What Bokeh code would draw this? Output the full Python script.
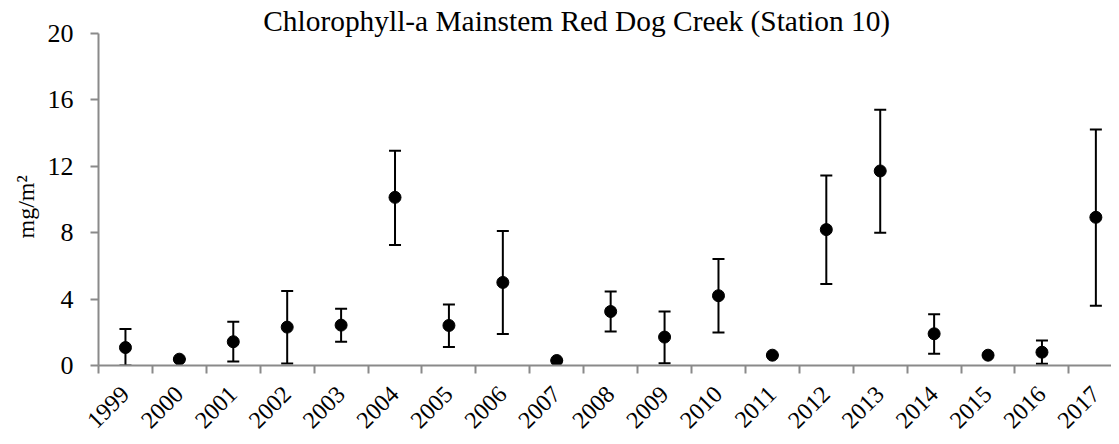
from bokeh.plotting import figure
from bokeh.models import (ColumnDataSource, Whisker, TeeHead, Range1d, FixedTicker, Label, Title)
from bokeh.embed import file_html
from bokeh.resources import INLINE

years = ["1999", "2000", "2001", "2002", "2003", "2004", "2005", "2006", "2007", "2008",
         "2009", "2010", "2011", "2012", "2013", "2014", "2015", "2016", "2017"]
mean = [1.08, 0.38, 1.43, 2.31, 2.43, 10.12, 2.41, 5.00, 0.30, 3.25,
        1.71, 4.20, 0.62, 8.18, 11.71, 1.91, 0.62, 0.80, 8.92]
upper = [2.19, 0.38, 2.63, 4.48, 3.41, 12.92, 3.67, 8.09, 0.30, 4.46,
         3.25, 6.41, 0.62, 11.43, 15.40, 3.09, 0.62, 1.51, 14.20]
lower = [0.00, 0.38, 0.24, 0.12, 1.43, 7.25, 1.12, 1.89, 0.30, 2.05,
         0.14, 1.99, 0.62, 4.90, 7.99, 0.70, 0.62, 0.10, 3.59]
y_ticks = [0, 4, 8, 12, 16, 20]
title_text = "Chlorophyll-a Mainstem Red Dog Creek (Station 10)"
y_label = "mg/m²"

FONT = "Liberation Serif"
AXIS_GRAY = "#8a8a8a"

xs = [i + 0.5 for i in range(len(years))]
src = ColumnDataSource(dict(x=xs, mean=mean, upper=upper, lower=lower))

p = figure(frame_width=1013, frame_height=365, output_backend="svg", toolbar_location=None,
           x_range=Range1d(0, 18.79), y_range=Range1d(0, 21.97),
           min_border_left=98, min_border_right=0, min_border_top=0, min_border_bottom=60)
p.outline_line_color = None
p.xgrid.grid_line_color = None
p.ygrid.grid_line_color = None

w = Whisker(base="x", upper="upper", lower="lower", source=src, dimension="height",
            line_color="black", line_width=2,
            upper_head=TeeHead(size=12, line_color="black", line_width=2),
            lower_head=TeeHead(size=12, line_color="black", line_width=2))
p.add_layout(w)
p.scatter("x", "mean", source=src, size=12, color="black")

# x axis: labels at category centres, tick marks at category boundaries
p.xaxis.ticker = FixedTicker(ticks=xs, minor_ticks=list(range(len(years) + 1)))
p.xaxis.major_label_overrides = {x: y for x, y in zip(xs, years)}
p.xaxis.major_label_orientation = 0.785398
p.xaxis.major_tick_out = 0
p.xaxis.major_tick_in = 0
p.xaxis.minor_tick_out = 8
p.xaxis.minor_tick_in = 0
p.xaxis.minor_tick_line_color = AXIS_GRAY
p.xaxis.minor_tick_line_width = 2
p.xaxis.axis_line_color = AXIS_GRAY
p.xaxis.axis_line_width = 2
p.xaxis.major_label_text_font = FONT
p.xaxis.major_label_text_font_size = "24px"
p.xaxis.major_label_text_color = "black"
p.xaxis.major_label_standoff = 17

p.yaxis.ticker = FixedTicker(ticks=y_ticks)
p.yaxis.bounds = (0, 20)
p.yaxis.minor_tick_line_color = None
p.yaxis.major_tick_out = 8
p.yaxis.major_tick_in = 0
p.yaxis.major_tick_line_color = AXIS_GRAY
p.yaxis.major_tick_line_width = 2
p.yaxis.axis_line_color = AXIS_GRAY
p.yaxis.axis_line_width = 2
p.yaxis.major_label_text_font = FONT
p.yaxis.major_label_text_font_size = "26px"
p.yaxis.major_label_text_color = "black"
p.yaxis.major_label_standoff = 17

# y-axis title, placed level with the 0-20 part of the axis
ytitle = Title(text=y_label, align="left", offset=127, standoff=12,
               text_font=FONT, text_font_size="24px", text_font_style="normal",
               text_color="black")
p.add_layout(ytitle, "left")

title = Label(x=8.87, y=20.76, x_units="data", y_units="data", text=title_text,
              text_font=FONT, text_font_size="29.4px", text_color="black",
              text_align="center", text_baseline="alphabetic")
p.add_layout(title)

open("out.html", "w").write(file_html(p, INLINE))
